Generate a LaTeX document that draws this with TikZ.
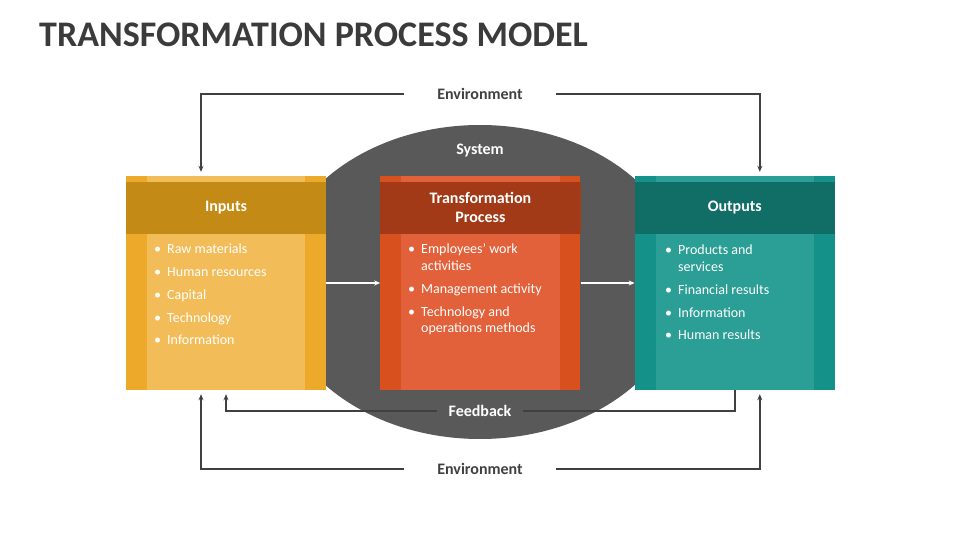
\documentclass[tikz,border=0pt]{standalone}
\usepackage{fontspec}
\setmainfont{Carlito}
\usetikzlibrary{positioning, arrows.meta, shapes.geometric}

\definecolor{titlegray}{HTML}{3B3B3B}
\definecolor{linegray}{HTML}{404040}
\definecolor{sysgray}{HTML}{595959}
\definecolor{inp-side}{HTML}{EDA92A}
\definecolor{inp-mid}{HTML}{F2BC58}
\definecolor{inp-hdr}{HTML}{C38A16}
\definecolor{trf-side}{HTML}{D9501F}
\definecolor{trf-mid}{HTML}{E2613A}
\definecolor{trf-hdr}{HTML}{A33A17}
\definecolor{out-side}{HTML}{149189}
\definecolor{out-mid}{HTML}{2B9E95}
\definecolor{out-hdr}{HTML}{106E67}

\newcommand{\blt}{\makebox[13pt][l]{\textbullet}}

\tikzset{
    procbox/.style={rectangle, minimum width=200pt, minimum height=214pt, inner sep=0pt},
    headtxt/.style={text=white, font=\bfseries\fontsize{16}{19}\selectfont, align=center},
    itemtxt/.style={text=white, anchor=base west, inner sep=0pt, font=\fontsize{14}{17}\selectfont},
    envlbl/.style={text=linegray, font=\bfseries\fontsize{16}{19}\selectfont, minimum width=151pt, inner sep=0pt},
    flow/.style={draw=linegray, line width=1.5pt},
}

\begin{document}
\begin{tikzpicture}[x=1pt, y=-1pt, >={Stealth[length=6pt, width=5pt]}, node distance=54pt]
    \useasboundingbox (0,0) rectangle (960,540);

    \node[anchor=base west, inner sep=0pt, text=titlegray,
          font=\bfseries\fontsize{36}{40}\selectfont] (title) at (39,47) {TRANSFORMATION PROCESS MODEL};

    % system
    \node[ellipse, fill=sysgray, minimum width=410pt, minimum height=314pt, inner sep=0pt] (system) at (480,282) {};
    \node[headtxt] (syslbl) at (480,151) {System};

    % the three boxes
    \node[procbox, fill=inp-side] (inputs) at (226,283) {};
    \node[procbox, fill=trf-side] (transf) [right=of inputs] {};
    \node[procbox, fill=out-side] (outputs) [right=of transf] {};

    \foreach \b/\c in {inputs/inp, transf/trf, outputs/out} {
        \fill[fill=\c-mid] ([xshift=21pt]\b.north west) rectangle ([xshift=-21pt]\b.south east);
        \fill[fill=\c-hdr] ([yshift=-6pt]\b.north west) rectangle ([yshift=-58pt]\b.north east);
    }

    \node[headtxt] (inhead) at ([yshift=-32pt]inputs.north) {Inputs};
    \node[headtxt] (trhead) at ([yshift=-32pt]transf.north) {Transformation\\Process};
    \node[headtxt] (outhead) at ([yshift=-32pt]outputs.north) {Outputs};

    % lists
    \foreach \y/\t in {253/Raw materials, 276/Human resources, 299/Capital, 322/Technology, 344/Information}
        \node[itemtxt] (in\y) at (154,\y) {\blt\t};

    \node[itemtxt] (tr1) at (408,253) {\blt Employees’ work};
    \node[itemtxt] (tr1b) at (421,270) {activities};
    \node[itemtxt] (tr2) at (408,293) {\blt Management activity};
    \node[itemtxt] (tr3) at (408,316) {\blt Technology and};
    \node[itemtxt] (tr3b) at (421,332) {operations methods};

    \node[itemtxt] (out1) at (665,254) {\blt Products and};
    \node[itemtxt] (out1b) at (678,271) {services};
    \node[itemtxt] (out2) at (665,294) {\blt Financial results};
    \node[itemtxt] (out3) at (665,317) {\blt Information};
    \node[itemtxt] (out4) at (665,339) {\blt Human results};

    % flows through the system
    \draw[->, white, line width=1.2pt] (inputs.east) -- (transf.west);
    \draw[->, white, line width=1.2pt] (transf.east) -- (outputs.west);

    % feedback
    \node[headtxt, minimum width=86pt, inner sep=0pt] (feedback) at (480,411) {Feedback};
    \draw[flow] (outputs.south) |- (feedback.east);
    \draw[flow, ->, shorten >=4pt] (feedback.west) -| (inputs.south);

    % environment
    \node[envlbl] (envtop) at (480,94) {Environment};
    \node[envlbl] (envbot) at (480,469) {Environment};

    \draw[flow, ->, shorten >=4pt] (envtop.west) -| ([xshift=-25pt]inputs.north);
    \draw[flow, ->, shorten >=4pt] (envtop.east) -| ([xshift=25pt]outputs.north);
    \draw[flow, ->, shorten >=4pt] (envbot.west) -| ([xshift=-25pt]inputs.south);
    \draw[flow, ->, shorten >=4pt] (envbot.east) -| ([xshift=25pt]outputs.south);

\end{tikzpicture}
\end{document}
